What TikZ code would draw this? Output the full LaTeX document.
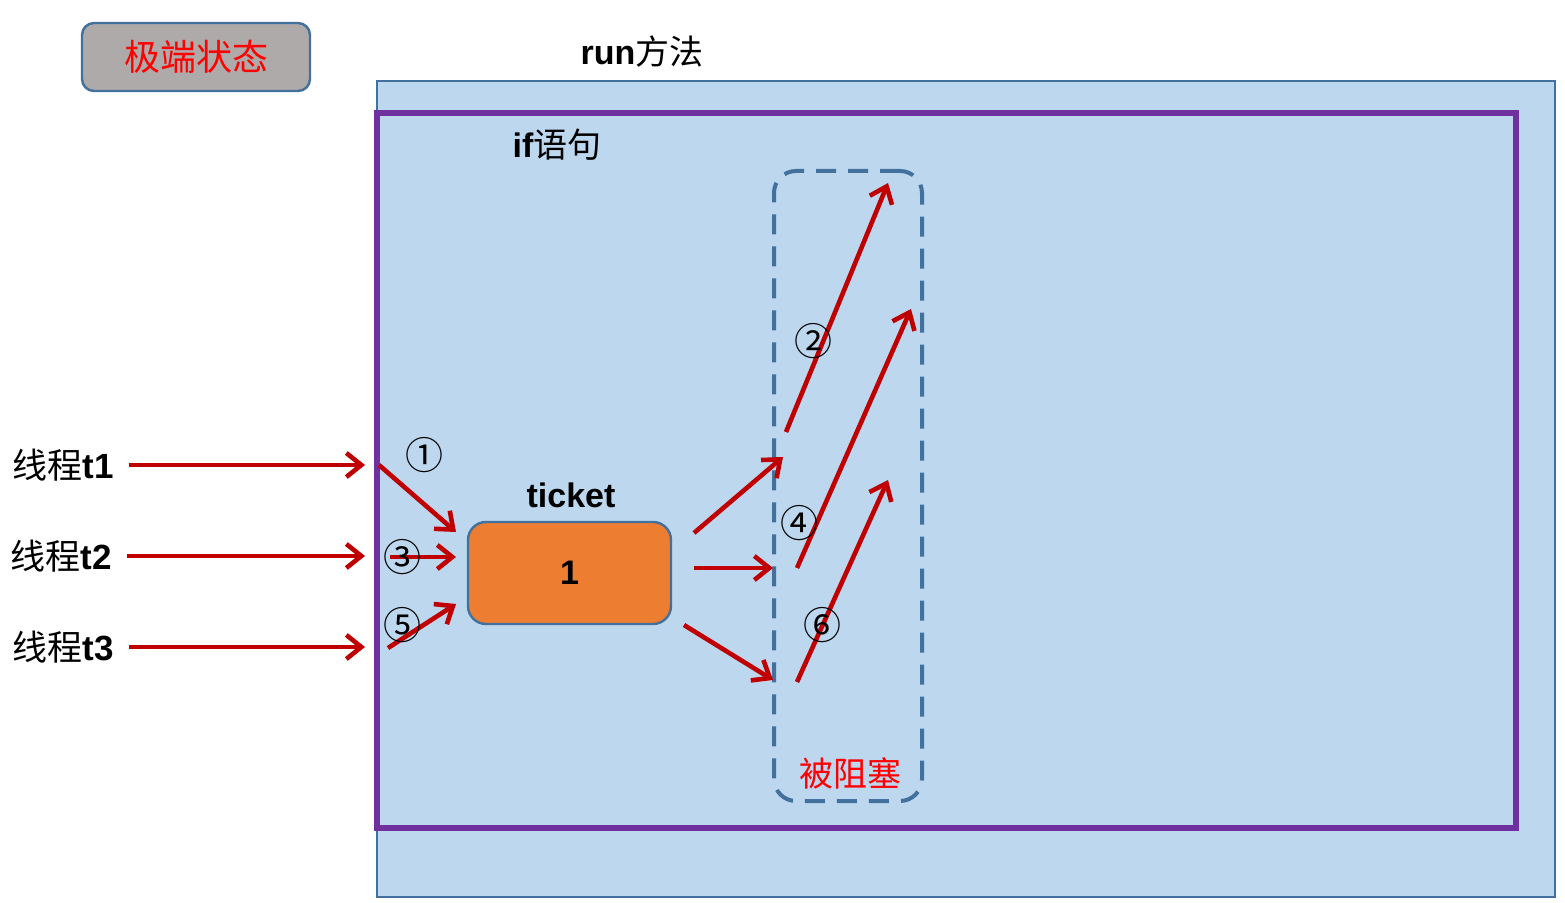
\documentclass[tikz,border=0pt]{standalone}
\usepackage{fontspec}
\setmainfont{Liberation Sans}
\newfontfamily\cjk{Noto Sans CJK SC}
\usetikzlibrary{arrows.meta}
\definecolor{PaleBlue} {RGB}{189,215,238}
\definecolor{EdgeBlue} {RGB}{65 ,113,156}
\definecolor{IfPurple} {RGB}{112, 48,160}
\definecolor{DarkRed}  {RGB}{192,  0,  0}
\definecolor{Ticket}   {RGB}{237,125, 49}
\definecolor{Stone}    {RGB}{174,170,170}
\tikzset{
  panel/.style={
    rectangle, fill=PaleBlue, draw=EdgeBlue, line width=1pt,
    inner sep=0pt, minimum width=589pt, minimum height=408pt
  },
  ifpanel/.style={rectangle, draw=IfPurple, line width=2.6pt, inner sep=0pt,
                  minimum width=569.5pt, minimum height=357.5pt},
  blockzone/.style={rectangle, rounded corners=11pt, draw=EdgeBlue,
                    line width=2pt, dash pattern=on 10pt off 6pt,
                    inner sep=0pt, minimum width=74pt, minimum height=315pt},
  statebox/.style={rectangle, rounded corners=6pt, fill=Stone, draw=EdgeBlue,
                   line width=1.2pt, minimum width=114pt, minimum height=34pt,
                   text=red, font=\fontsize{18}{20}\selectfont\cjk},
  ticketbox/.style={rectangle, rounded corners=9pt, fill=Ticket, draw=EdgeBlue,
                    line width=1.2pt, minimum width=101.5pt, minimum height=51pt,
                    font=\fontsize{17}{20}\selectfont\bfseries},
  heading/.style={font=\fontsize{17}{20}\selectfont},
  thread/.style={font=\fontsize{17.5}{20}\selectfont},
  numtag/.style={inner sep=0pt, font=\fontsize{19}{20}\selectfont\cjk},
  flow/.style={-{Straight Barb[length=7.5pt,width=12pt]},
               line width=2.3pt, color=DarkRed}
}

\begin{document}
\begin{tikzpicture}[x=0.5pt, y=-0.5pt]
  \useasboundingbox (0,0) rectangle (1565,903);

  \node[statebox] (state) at (196,57) {极端状态};

  \node[panel]     (run)  at (966,489)   {};
  \node[ifpanel]   (ifb)  at (946.5,470.5) {};
  \node[blockzone] (zone) at (848,486)   {};

  \node[heading] (runlbl) at (642,52)  {\textbf{run}{\cjk 方法}};
  \node[heading] (iflbl)  at (557,145) {\textbf{if}{\cjk 语句}};
  \node[heading, text=red] (zonelbl) at (850,773) {\cjk 被阻塞};

  \node[ticketbox] (tk) at (569.5,573) {\raisebox{-2pt}{1}};
  \node[heading] (tklbl) at (571,495) {\textbf{ticket}};

  \node[thread] (t1) at (63,465) {{\cjk 线程}\textbf{t1}};
  \node[thread] (t2) at (61,556) {{\cjk 线程}\textbf{t2}};
  \node[thread] (t3) at (63,647) {{\cjk 线程}\textbf{t3}};

  % arrow ends
  \coordinate (g1) at (365,465);
  \coordinate (g2) at (365,556);
  \coordinate (g3) at (365,647);
  \coordinate (a1) at (379,465);  \coordinate (b1) at (456,532);
  \coordinate (a2) at (390,557);  \coordinate (b2) at (456,557);
  \coordinate (a3) at (388,648);  \coordinate (b3) at (456,604);
  \coordinate (c1) at (694,533);  \coordinate (d1) at (783,457);
  \coordinate (c2) at (694,568);  \coordinate (d2) at (773,568);
  \coordinate (c3) at (684,625);  \coordinate (d3) at (773,680);
  \coordinate (e1) at (786,432);  \coordinate (f1) at (888,183);
  \coordinate (e2) at (797,568);  \coordinate (f2) at (911,309);
  \coordinate (e3) at (797,682);  \coordinate (f3) at (888,480);

  \foreach \a/\b in {t1/g1, t2/g2, t3/g3}
    \draw[flow, shorten <=4pt] (\a) -- (\b);
  \foreach \a/\b in {a1/b1, a2/b2, a3/b3, c1/d1, c2/d2, c3/d3, e1/f1, e2/f2, e3/f3}
    \draw[flow] (\a) -- (\b);

  \node[numtag] (n1) at (424,455) {①};
  \node[numtag] (n2) at (813,341) {②};
  \node[numtag] (n3) at (402,557) {③};
  \node[numtag] (n4) at (799,523) {④};
  \node[numtag] (n5) at (402,625) {⑤};
  \node[numtag] (n6) at (822,625) {⑥};
\end{tikzpicture}
\end{document}
